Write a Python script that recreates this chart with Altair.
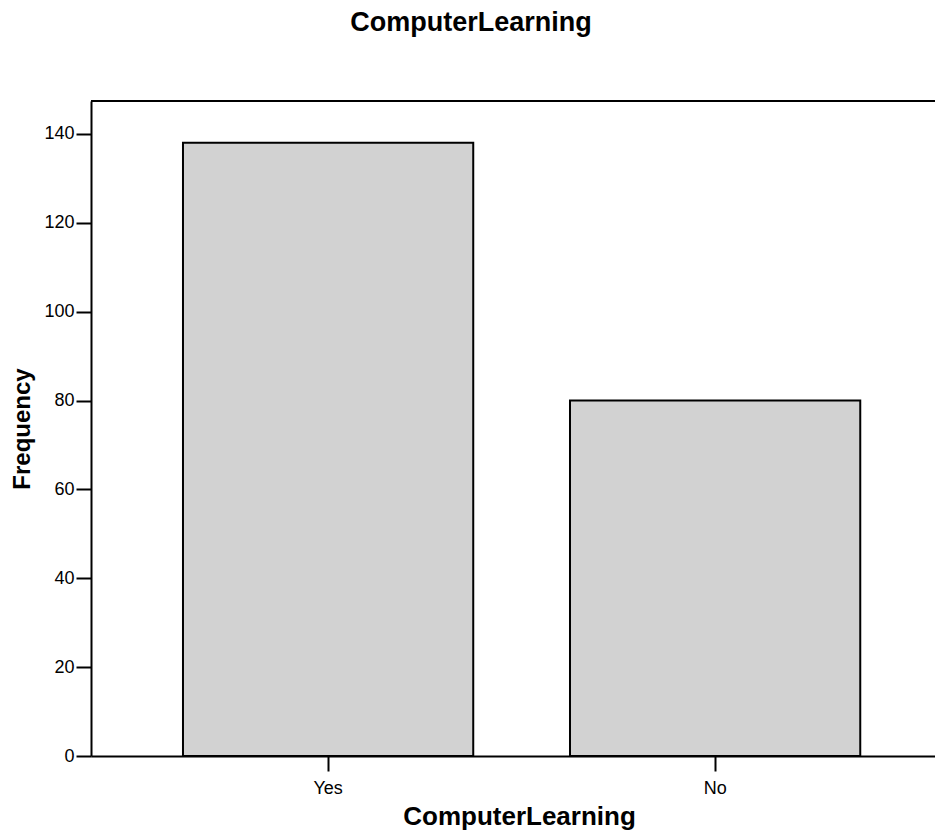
import altair as alt
import pandas as pd

categories = ["Yes", "No"]
frequencies = [138, 80]
y_ticks = [0, 20, 40, 60, 80, 100, 120, 140]
y_max = 147.4

df = pd.DataFrame({"ComputerLearning": categories, "Frequency": frequencies})

W, H = 844, 655
FONT = "Liberation Sans"

x = alt.X(
    "ComputerLearning:N",
    sort=categories,
    scale=alt.Scale(paddingInner=0.25, paddingOuter=0.2154, align=0.5517),
    axis=alt.Axis(
        title="ComputerLearning",
        labelAngle=0,
        labelFontSize=18,
        labelFont=FONT,
        labelColor="black",
        labelPadding=8,
        tickSize=15,
        tickColor="black",
        tickWidth=2,
        domainColor="black",
        domainWidth=2,
        titleFontSize=26,
        titleFont=FONT,
        titleFontWeight="bold",
        titleColor="black",
        titleBaseline="alphabetic",
        titleAlign="center",
        titleX=428,
        titleY=68,
    ),
)
y = alt.Y(
    "Frequency:Q",
    scale=alt.Scale(domain=[0, y_max], nice=False, zero=True),
    axis=alt.Axis(
        title="Frequency",
        values=y_ticks,
        grid=False,
        labelFontSize=18,
        labelFont=FONT,
        labelColor="black",
        labelPadding=2,
        tickSize=15,
        tickColor="black",
        tickWidth=2,
        domainColor="black",
        domainWidth=2,
        titleFontSize=24,
        titleFont=FONT,
        titleFontWeight="bold",
        titleColor="black",
        titleAngle=270,
        titleBaseline="alphabetic",
        titleAlign="center",
        titleX=-62,
        titleY=H / 2,
    ),
)

bars = alt.Chart(df).mark_bar(color="#d2d2d2", stroke="black", strokeWidth=2).encode(x=x, y=y)

top_line = alt.Chart(df).mark_rule(color="black", strokeWidth=2).encode(
    x=alt.value(0), x2=alt.value(W), y=alt.value(0)
)

chart = (
    alt.layer(bars, top_line)
    .properties(
        width=W,
        height=H,
        autosize=alt.AutoSizeParams(type="none"),
        padding={"left": 83, "top": 93, "right": 0, "bottom": 76},
        title=alt.TitleParams(
            "ComputerLearning",
            fontSize=27,
            font=FONT,
            fontWeight="bold",
            color="black",
            anchor="middle",
            dx=-42,
            offset=42,
            baseline="alphabetic",
        ),
    )
    .configure_view(stroke=None)
)

chart.save("out.html", embed_options={"renderer": "svg", "actions": False})
